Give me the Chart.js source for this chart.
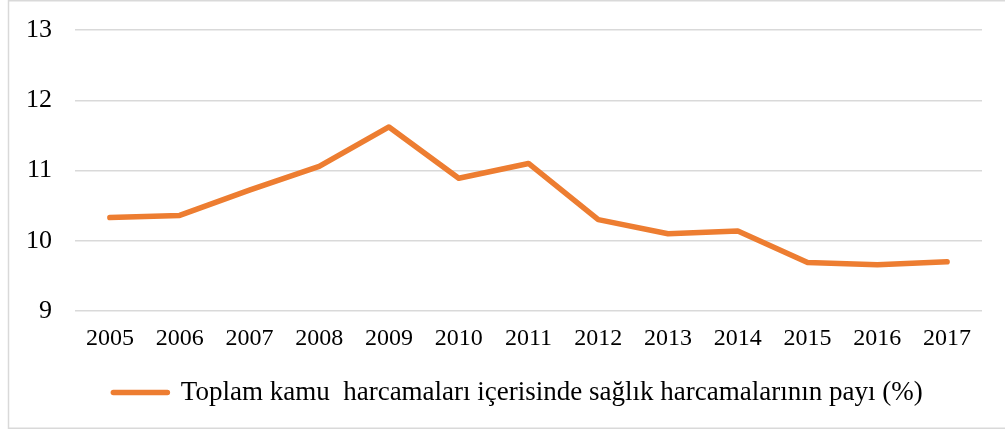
<!DOCTYPE html>
<html>
<head>
<meta charset="utf-8">
<script src="https://cdn.jsdelivr.net/npm/chart.js@4.4.1/dist/chart.umd.min.js"></script>
<style>
  html, body { margin: 0; padding: 0; background: #fff; }
  #wrap { position: relative; width: 1005px; height: 430px; }
</style>
</head>
<body>
<div id="wrap"><canvas id="healthChart"></canvas></div>
<script>
// Data
const years = ['2005', '2006', '2007', '2008', '2009', '2010', '2011', '2012', '2013', '2014', '2015', '2016', '2017'];
const healthShare = [10.33, 10.36, 10.72, 11.06, 11.62, 10.89, 11.10, 10.30, 10.10, 10.14, 9.69, 9.66, 9.70];
const seriesLabel = 'Toplam kamu  harcamaları içerisinde sağlık harcamalarının payı (%)';

const orange = '#ed7d31';
const gridGrey = '#d9d9d9';
const serif = "'Liberation Serif', 'Times New Roman', serif";

// light frame around the whole chart, like the office export
const framePlugin = {
    id: 'frame',
    beforeDraw(chart) {
        const c = chart.ctx;
        c.save();
        c.strokeStyle = gridGrey;
        c.lineWidth = 1.5;
        c.strokeRect(8.5, 0.75, 1010, 427.5);
        c.restore();
    }
};

// the legend in the reference sits a bit right of centre
const legendShift = {
    id: 'legendShift',
    afterLayout(chart) {
        const lg = chart.legend;
        if (!lg) return;
        lg.left += 23;
        lg.right += 23;
    }
};

const ctx = document.getElementById('healthChart').getContext('2d');
new Chart(ctx, {
    type: 'line',
    data: {
        labels: years,
        datasets: [{
            label: seriesLabel,
            data: healthShare,
            borderColor: orange,
            backgroundColor: orange,
            borderWidth: 5.5,
            borderCapStyle: 'round',
            borderJoinStyle: 'round',
            tension: 0,
            pointRadius: 0,
            fill: false
        }]
    },
    options: {
        responsive: true,
        maintainAspectRatio: false,
        animation: false,
        layout: { padding: { left: 8, right: 23, top: 30, bottom: 14 } },
        plugins: {
            tooltip: { enabled: false },
            legend: {
                position: 'bottom',
                labels: {
                    color: '#000',
                    font: { family: serif, size: 27 },
                    boxWidth: 54,
                    boxHeight: 0.01,
                    padding: 10
                }
            }
        },
        scales: {
            x: {
                offset: true,
                grid: { display: false, drawTicks: false },
                border: { display: false },
                ticks: {
                    color: '#000',
                    font: { family: serif, size: 24 },
                    padding: 13,
                    maxRotation: 0
                },
                afterFit(scale) { scale.height = 58; }
            },
            y: {
                min: 9,
                max: 13,
                grid: { color: gridGrey, lineWidth: 1.5, drawTicks: false },
                border: { display: false },
                ticks: {
                    stepSize: 1,
                    color: '#000',
                    font: { family: serif, size: 26 },
                    padding: 23
                },
                afterFit(scale) {
                    scale.width = 67;
                    // keep the tick padding from pushing the plot down
                    scale.paddingTop = 0;
                    scale.paddingBottom = 0;
                }
            }
        }
    },
    plugins: [framePlugin, legendShift]
});
</script>
</body>
</html>
